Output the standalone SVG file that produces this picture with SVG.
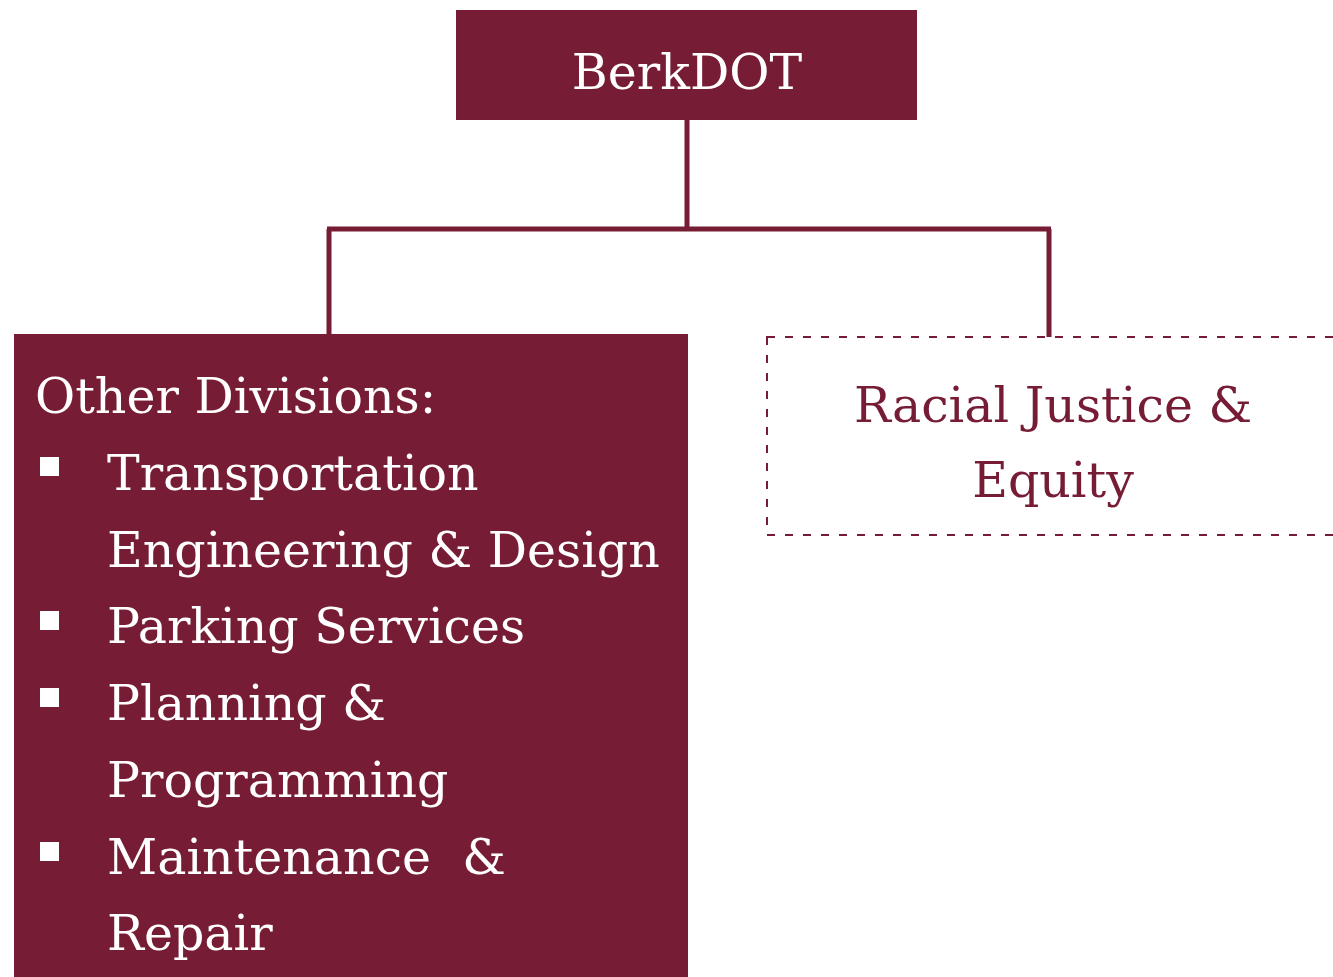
<svg xmlns="http://www.w3.org/2000/svg" width="1333" height="977" viewBox="0 0 1333 977">
<style>
.t{font-family:"DejaVu Serif","Liberation Serif",serif;font-size:49px}
.w{fill:#ffffff}
.m{fill:#761C35}
.c{stroke:#761C35;stroke-width:5;fill:none}
</style>
<rect width="1333" height="977" fill="#ffffff"/>
<g id="connectors">
<line class="c" x1="687" y1="120" x2="687" y2="229"/>
<line class="c" x1="327" y1="229" x2="1051" y2="229"/>
<line class="c" x1="329" y1="229" x2="329" y2="336"/>
<line class="c" x1="1049" y1="229" x2="1049" y2="337"/>
</g>
<g id="berkdot">
<rect x="456" y="10" width="461" height="110" class="m"/>
<text x="687" y="89" text-anchor="middle" class="t w">BerkDOT</text>
</g>
<g id="other-divisions">
<rect x="14" y="334" width="674" height="650" class="m"/>
<text x="35" y="413" class="t w">Other Divisions:</text>
<rect x="40" y="457" width="19" height="19" class="w"/>
<text x="107" y="490" class="t w">Transportation</text>
<text x="107" y="567" class="t w">Engineering &amp; Design</text>
<rect x="40" y="611" width="19" height="19" class="w"/>
<text x="107" y="643" class="t w">Parking Services</text>
<rect x="40" y="688" width="19" height="19" class="w"/>
<text x="107" y="720" class="t w">Planning &amp;</text>
<text x="107" y="797" class="t w">Programming</text>
<rect x="40" y="842" width="19" height="19" class="w"/>
<text x="107" y="874" class="t w" xml:space="preserve">Maintenance  &amp;</text>
<text x="107" y="950" class="t w">Repair</text>
</g>
<g id="racial-justice">
<rect x="767" y="337" width="580" height="198" fill="none" stroke="#761C35" stroke-width="2" stroke-dasharray="8,10"/>
<text x="1053" y="422" text-anchor="middle" class="t m">Racial Justice &amp;</text>
<text x="1053" y="497" text-anchor="middle" class="t m">Equity</text>
</g>
</svg>
